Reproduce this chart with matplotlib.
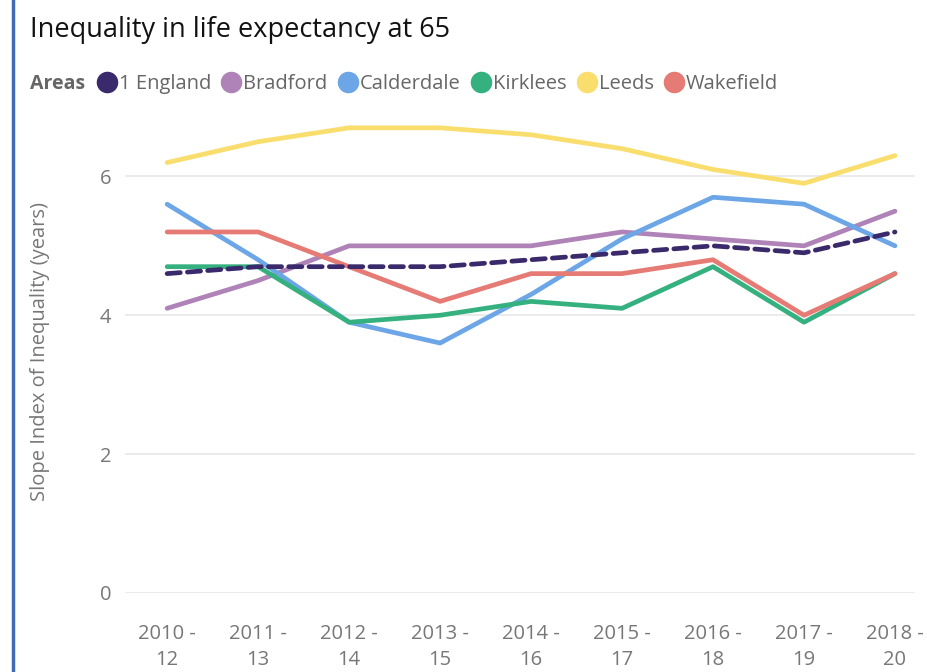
import matplotlib.pyplot as plt
from matplotlib.lines import Line2D

plt.rcParams['font.family'] = ['Open Sans', 'DejaVu Sans']

periods = ['2010 -\n12', '2011 -\n13', '2012 -\n14', '2013 -\n15', '2014 -\n16',
           '2015 -\n17', '2016 -\n18', '2017 -\n19', '2018 -\n20']
england = [4.6, 4.7, 4.7, 4.7, 4.8, 4.9, 5.0, 4.9, 5.2]
bradford = [4.1, 4.5, 5.0, 5.0, 5.0, 5.2, 5.1, 5.0, 5.5]
calderdale = [5.6, 4.8, 3.9, 3.6, 4.3, 5.1, 5.7, 5.6, 5.0]
kirklees = [4.7, 4.7, 3.9, 4.0, 4.2, 4.1, 4.7, 3.9, 4.6]
leeds = [6.2, 6.5, 6.7, 6.7, 6.6, 6.4, 6.1, 5.9, 6.3]
wakefield = [5.2, 5.2, 4.7, 4.2, 4.6, 4.6, 4.8, 4.0, 4.6]

names = ['1 England', 'Bradford', 'Calderdale', 'Kirklees', 'Leeds', 'Wakefield']
colors = ['#3B2A6B', '#B083B8', '#6CA6E6', '#35B07F', '#F9DE6E', '#E57B74']

fig = plt.figure(figsize=(9.28, 6.72), dpi=100)
ax = fig.add_axes([0.135, 0.1176, 0.851, 0.718])

x = range(len(periods))
series = [bradford, calderdale, kirklees, leeds, wakefield]
for vals, c in zip(series, colors[1:]):
    ax.plot(x, vals, color=c, lw=3.4, solid_capstyle='round', zorder=3)
ax.plot(x, england, color=colors[0], lw=3.4, dashes=(2.8, 1.5),
        dash_capstyle='round', zorder=4)

ax.set_xlim(-0.46, 8.22)
ax.set_ylim(0, 6.95)
ax.set_yticks([0, 2, 4, 6])
ax.set_xticks(list(x))
ax.set_xticklabels(periods, linespacing=1.45)
ax.grid(axis='y', color='#E8E8E8', lw=1.2)
ax.set_axisbelow(True)
for s in ax.spines.values():
    s.set_visible(False)
ax.tick_params(length=0, colors='#777777', labelsize=14.5)
ax.tick_params(axis='x', pad=22)
ax.tick_params(axis='y', pad=10)
ax.set_ylabel('Slope Index of Inequality (years)', color='#777777', fontsize=14.5, labelpad=36)

fig.text(0.032, 0.955, 'Inequality in life expectancy at 65', fontsize=19.5,
         color='#111111', va='center')
fig.text(0.032, 0.875, 'Areas', fontsize=14, fontweight='bold', color='#666666', va='center')

handles = [Line2D([], [], marker='o', ls='', color=c, markersize=14.5) for c in colors]
leg = fig.legend(handles, names, loc='center left', bbox_to_anchor=(0.103, 0.875),
                 ncol=6, frameon=False, fontsize=14.5, handletextpad=0.05,
                 columnspacing=0.45, handlelength=1.1, borderpad=0, borderaxespad=0)
for t in leg.get_texts():
    t.set_color('#666666')

fig.add_artist(Line2D([0.0135, 0.0135], [0, 1], transform=fig.transFigure,
                      color='#3E6DB5', lw=2.5))

fig.savefig('out.png', dpi=100)
